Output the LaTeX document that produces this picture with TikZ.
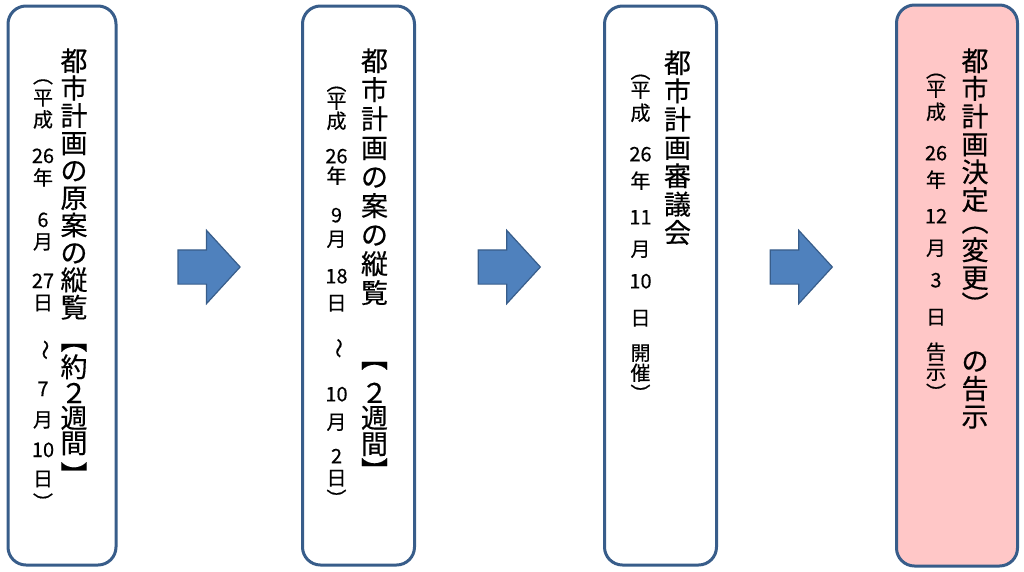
\documentclass[tikz,border=0pt]{standalone}
\usepackage{fontspec}
\setmainfont{Noto Sans CJK JP}[FakeBold=0.4]
\usepackage{graphicx}
\usepackage{tikz}
\usetikzlibrary{shapes.arrows}
\usetikzlibrary{positioning}

\definecolor{boxline}{RGB}{56,93,138}
\definecolor{arrowfill}{RGB}{79,129,189}
\definecolor{arrowline}{RGB}{56,93,138}
\definecolor{notice}{RGB}{255,199,199}

\newcommand{\tate}[1]{\rotatebox[origin=c]{-90}{#1}}

\begin{document}
\begin{tikzpicture}[
                x=1pt, y=1pt,
                thick,
                stepbox/.style={
                        draw=boxline,
                        line width=3pt,
                        rounded corners=18pt,
                        fill=white,
                        minimum width=108pt,
                        minimum height=559pt,
                        inner sep=0pt,
                        outer sep=0pt
                    },
                maintext/.style={
                        draw=none,
                        align=center,
                        anchor=north,
                        inner sep=0pt
                    },
                subtext/.style={
                        draw=none,
                        align=center,
                        anchor=north,
                        inner sep=0pt,
                        font={\fontsize{20}{21}\selectfont\lineskiplimit=-100pt}
                    },
                blockarrow/.style={
                        single arrow,
                        draw=arrowline,
                        fill=arrowfill,
                        line width=1.2pt,
                        minimum height=62pt,
                        minimum width=72pt,
                        single arrow head extend=19.5pt,
                        single arrow tip angle=95,
                        inner xsep=0pt,
                        inner ysep=16.5pt
                    }
            ]

            \useasboundingbox (0,0) rectangle (1024,-571);

            % Steps
            \node[stepbox] (A) at (62,-285.5) {};
            \node[stepbox, minimum width=112pt, right=186.5pt of A] (B) {};
            \node[stepbox, minimum width=112pt, right=190pt of B] (C) {};
            \node[stepbox, minimum width=121pt, minimum height=561pt, fill=notice, right=180pt of C] (D) {};

            % Titles
            \node[maintext, font={\fontsize{27}{27.4}\selectfont\lineskiplimit=-100pt}, below=42pt of A.north, xshift=12pt] (Atitle) {都\\市\\計\\画\\の\\原\\案\\の\\縦\\覧\\[4.75pt]\tate{【}\\約\\[-1.4pt]２\\[-2.4pt]週\\[-2.4pt]間\\[4.6pt]\tate{】}};
            \node[maintext, font={\fontsize{27}{29}\selectfont\lineskiplimit=-100pt}, below=42pt of B.north, xshift=16pt] (Btitle) {都\\市\\計\\画\\の\\案\\の\\縦\\覧\\[35.75pt]\tate{【}\\[6.25pt]２\\[-4pt]週\\[-3pt]間\\[-2pt]\tate{】}};
            \node[maintext, font={\fontsize{27}{28.3}\selectfont\lineskiplimit=-100pt}, below=44pt of C.north, xshift=17pt] (Ctitle) {都\\市\\計\\画\\審\\議\\会};
            \node[maintext, font={\fontsize{27}{27.8}\selectfont\lineskiplimit=-100pt}, below=43pt of D.north, xshift=18pt] (Dtitle) {都\\市\\計\\画\\決\\定\\[-6pt]\tate{（}\\[0.5pt]変\\更\\[-0.5pt]\tate{）}\\[28pt]の\\告\\示};

            % Dates
            \node[subtext, font={\fontsize{20}{22}\selectfont\lineskiplimit=-100pt}, below=59pt of A.north, xshift=-19pt] (Adate) {\tate{（}\\平\\成\\[14pt]26\\年\\[20pt]6\\月\\[17pt]27\\日\\[23pt]\tate{～}\\[19pt]7\\[9pt]月\\[8pt]10\\[7pt]日\\[2pt]\tate{）}};
            \node[subtext, below=66.3pt of B.north, xshift=-22pt] (Bdate) {\tate{（}\\[-3pt]平\\[-1pt]成\\[14pt]26\\[-1pt]年\\[18pt]9\\[3pt]月\\[16pt]18\\[6pt]日\\[22pt]\tate{～}\\[27pt]10\\[7pt]月\\[13pt]2\\[1pt]日\\\tate{）}};
            \node[subtext, below=54.3pt of C.north, xshift=-20pt] (Cdate) {\tate{（}\\[-2pt]平\\[2pt]成\\[20pt]26\\[6pt]年\\[15pt]11\\[11pt]月\\[11pt]10\\[16pt]日\\[14pt]開\\[-1pt]催\\\tate{）}};
            \node[subtext, below=54.3pt of D.north, xshift=-21pt] (Ddate) {\tate{（}\\[-2pt]平\\[2pt]成\\[20pt]26\\[6pt]年\\[15pt]12\\[11pt]月\\[11pt]3\\[16pt]日\\[14pt]告\\[-1pt]示\\\tate{）}};

            % Arrows between the steps
            \path (A) -- (B) node[midway, blockarrow, yshift=18.5pt, xshift=-8pt] {};
            \path (B) -- (C) node[midway, blockarrow, yshift=18.5pt, xshift=-8pt] {};
            \path (C) -- (D) node[midway, blockarrow, yshift=18.5pt, xshift=-13pt] {};

        \end{tikzpicture}
\end{document}
